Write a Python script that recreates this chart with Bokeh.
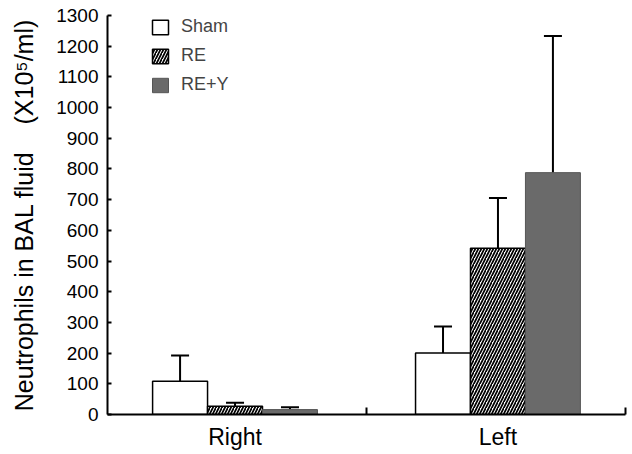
import numpy as np
from bokeh.plotting import figure
from bokeh.models import (ColumnDataSource, Range1d, FixedTicker, Whisker, TeeHead,
                          Legend, LegendItem)
from bokeh.embed import file_html
from bokeh.resources import INLINE

# ---- data ----
sides = ["Right", "Left"]
groups = ["Sham", "RE", "RE+Y"]
sham_mean = [108, 200]
sham_sem = [84, 87]
re_mean = [27, 542]
re_sem = [11, 163]
rey_mean = [16, 788]
rey_sem = [8, 445]
y_ticks = list(range(0, 1301, 100))

FONT = "Liberation Sans"
bar_w = 0.209
offsets = [-bar_w, 0.0, bar_w]
base_x = np.arange(len(sides), dtype=float)

p = figure(width=632, height=454, output_backend="svg", toolbar_location=None,
           x_range=Range1d(-0.485, 1.485), y_range=Range1d(0, 1300),
           min_border_left=107, min_border_right=7, min_border_top=15, min_border_bottom=40)
p.outline_line_color = None
p.xgrid.visible = False
p.ygrid.visible = False
p.background_fill_color = "white"
p.border_fill_color = "white"

def make_src(mean, sem, off):
    m = np.array(mean, dtype=float)
    s = np.array(sem, dtype=float)
    return ColumnDataSource(dict(x=base_x + off, top=m, upper=m + s))

src_sham = make_src(sham_mean, sham_sem, offsets[0])
src_re = make_src(re_mean, re_sem, offsets[1])
src_rey = make_src(rey_mean, rey_sem, offsets[2])

r_sham = p.vbar(x="x", top="top", width=bar_w, source=src_sham,
                fill_color="white", line_color="black", line_width=1.5)
r_re = p.vbar(x="x", top="top", width=bar_w, source=src_re,
              fill_color="white", line_color="black", line_width=1.5,
              hatch_pattern="/", hatch_color="black", hatch_scale=6, hatch_weight=1.7)
r_rey = p.vbar(x="x", top="top", width=bar_w, source=src_rey,
               fill_color="#6a6a6a", line_color="#555555", line_width=1.0)

for src in (src_sham, src_re, src_rey):
    w = Whisker(base="x", lower="top", upper="upper", dimension="height", source=src,
                line_color="black", line_width=2,
                upper_head=TeeHead(size=18, line_color="black", line_width=2),
                lower_head=None)
    p.add_layout(w)

# axes
p.xaxis.ticker = FixedTicker(ticks=[0, 1], minor_ticks=[0.5, 1.485])
p.xaxis.major_label_overrides = {0: sides[0], 1: sides[1]}
p.xaxis.major_tick_line_color = None
p.xaxis.major_tick_in = 0
p.xaxis.major_tick_out = 0
p.xaxis.minor_tick_in = 7
p.xaxis.minor_tick_out = 0
p.xaxis.minor_tick_line_width = 2
p.xaxis.minor_tick_line_color = "black"
p.xaxis.axis_line_width = 2
p.xaxis.major_label_standoff = 9
p.xaxis.major_label_text_font = FONT
p.xaxis.major_label_text_font_size = "23px"
p.xaxis.major_label_text_color = "black"

p.yaxis.ticker = FixedTicker(ticks=y_ticks)
p.yaxis.major_tick_in = 4
p.yaxis.major_tick_out = 0
p.yaxis.major_tick_line_width = 2
p.yaxis.minor_tick_line_color = None
p.yaxis.axis_line_width = 2
p.yaxis.major_label_standoff = 9
p.yaxis.major_label_text_font = FONT
p.yaxis.major_label_text_font_size = "19px"
p.yaxis.major_label_text_color = "black"
p.yaxis.axis_label = "Neutrophils in BAL fluid\u00a0\u00a0\u00a0\u00a0(X10\u2075/ml)"
p.yaxis.axis_label_text_font = FONT
p.yaxis.axis_label_text_font_size = "25px"
p.yaxis.axis_label_text_font_style = "normal"
p.yaxis.axis_label_text_color = "black"
p.yaxis.axis_label_standoff = 15

legend = Legend(items=[LegendItem(label=groups[0], renderers=[r_sham]),
                       LegendItem(label=groups[1], renderers=[r_re]),
                       LegendItem(label=groups[2], renderers=[r_rey])],
                location=(43, 319), padding=0, margin=0, spacing=8,
                glyph_width=20, glyph_height=18, label_height=18, label_standoff=11,
                label_text_font=FONT, label_text_font_size="18px",
                border_line_color=None, background_fill_alpha=0)
p.add_layout(legend)

open("out.html", "w").write(file_html(p, INLINE))
